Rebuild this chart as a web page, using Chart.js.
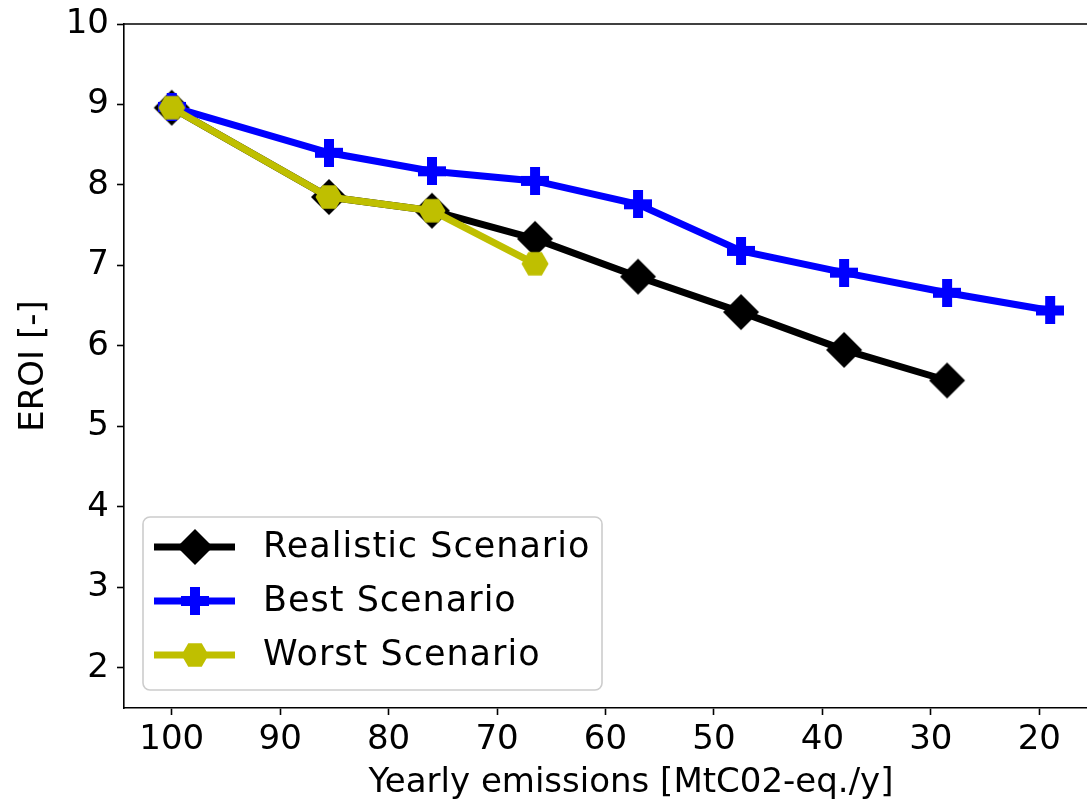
<!DOCTYPE html>
<html lang="en">
<head>
  <meta charset="UTF-8">
  <title>EROI vs yearly emissions</title>
  <script src="https://cdn.jsdelivr.net/npm/chart.js"></script>
  <style>
    html, body { margin: 0; padding: 0; background: #fff; }
    #wrap { width: 1087px; height: 808px; }
  </style>
</head>
<body>

<div id="wrap"><canvas id="eroiChart" width="1087" height="808"></canvas></div>

<script>
  // emission levels (MtCO2-eq per year) and EROI per scenario
  const emissions = [100, 85.5, 76, 66.5, 57, 47.5, 38, 28.5, 19];
  const realistic = [8.96, 7.85, 7.68, 7.33, 6.86, 6.42, 5.95, 5.57];
  const best      = [8.97, 8.40, 8.17, 8.05, 7.76, 7.18, 6.91, 6.66, 6.44];
  const worst     = [8.96, 7.85, 7.68, 7.02];

  const xTicks = [100, 90, 80, 70, 60, 50, 40, 30, 20];
  const yTicks = [2, 3, 4, 5, 6, 7, 8, 9, 10];

  const labels = ['Realistic Scenario', 'Best Scenario', 'Worst Scenario'];
  const colors = ['#000000', '#0000ff', '#bfbf00'];
  const xTitle = 'Yearly emissions [MtC02-eq./y]';

  function pairs(ys) {
    return ys.map((y, i) => ({ x: emissions[i], y: y }));
  }

  // marker sprites, reused for the points and the legend
  function sprite(w, h, draw) {
    const c = document.createElement('canvas');
    c.width = w; c.height = h;
    draw(c.getContext('2d'), w / 2, h / 2);
    return c;
  }

  const diamond = sprite(38, 38, (g, cx, cy) => {
    g.fillStyle = colors[0];
    g.beginPath();
    g.moveTo(cx, cy - 18);
    g.lineTo(cx + 18, cy);
    g.lineTo(cx, cy + 18);
    g.lineTo(cx - 18, cy);
    g.closePath();
    g.fill();
  });

  const plus = sprite(28, 28, (g, cx, cy) => {
    g.fillStyle = colors[1];
    g.fillRect(cx - 14, cy - 5, 28, 10);
    g.fillRect(cx - 5, cy - 14, 10, 28);
  });

  const hexagon = sprite(28, 26, (g, cx, cy) => {
    const r = 13.5;
    g.fillStyle = colors[2];
    g.beginPath();
    for (let k = 0; k < 6; k++) {
      const a = k * Math.PI / 3;
      const px = cx + r * Math.cos(a), py = cy + r * Math.sin(a);
      if (k === 0) g.moveTo(px, py); else g.lineTo(px, py);
    }
    g.closePath();
    g.fill();
  });

  const markers = [diamond, plus, hexagon];

  Chart.defaults.font.family = "'DejaVu Sans', sans-serif";
  Chart.defaults.font.size = 34;
  Chart.defaults.color = '#000';

  // top spine, x-axis title and legend box inside the plot
  const framePlugin = {
    id: 'frame',
    afterDraw(chart) {
      const ctx = chart.ctx;
      const a = chart.chartArea;
      ctx.save();
      ctx.strokeStyle = '#000';
      ctx.lineWidth = 1.6;
      ctx.beginPath();
      ctx.moveTo(a.left, a.top);
      ctx.lineTo(a.right, a.top);
      ctx.stroke();

      ctx.fillStyle = '#000';
      ctx.font = "34px 'DejaVu Sans'";
      ctx.textAlign = 'center';
      ctx.textBaseline = 'middle';
      ctx.fillText(xTitle, 631, 783);

      const bx = 143, by = 517, bw = 459, bh = 173, r = 7;
      ctx.beginPath();
      ctx.roundRect(bx, by, bw, bh, r);
      ctx.fillStyle = 'rgba(255,255,255,0.8)';
      ctx.fill();
      ctx.strokeStyle = '#cccccc';
      ctx.lineWidth = 1.6;
      ctx.stroke();

      ctx.font = "35px 'DejaVu Sans'";
      ctx.letterSpacing = '1px';
      ctx.textAlign = 'left';
      labels.forEach((lab, i) => {
        const y = 547 + i * 54;
        ctx.strokeStyle = colors[i];
        ctx.lineWidth = 7;
        ctx.beginPath();
        ctx.moveTo(154, y);
        ctx.lineTo(235, y);
        ctx.stroke();
        const m = markers[i];
        ctx.drawImage(m, 195 - m.width / 2, y - m.height / 2);
        ctx.fillStyle = '#000';
        ctx.fillText(lab, 263, y + 1);
      });
      ctx.restore();
    }
  };

  const series = [realistic, best, worst];
  const ctx = document.getElementById('eroiChart').getContext('2d');

  new Chart(ctx, {
    type: 'line',
    data: {
      datasets: series.map((ys, i) => ({
        label: labels[i],
        data: pairs(ys),
        borderColor: colors[i],
        backgroundColor: colors[i],
        borderWidth: 7,
        pointStyle: markers[i],
        pointRadius: 14,
        tension: 0,
        fill: false,
        order: 3 - i
      }))
    },
    options: {
      responsive: false,
      animation: false,
      events: [],
      layout: { autoPadding: false, padding: { top: 24, right: 0, left: 0, bottom: 0 } },
      plugins: {
        legend: { display: false },
        tooltip: { enabled: false }
      },
      scales: {
        x: {
          type: 'linear',
          reverse: true,
          min: 15.6,
          max: 104.4,
          afterBuildTicks: s => { s.ticks = xTicks.map(v => ({ value: v })); },
          afterFit: s => { s.height = 100; s.paddingLeft = 0; s.paddingRight = 0; },
          grid: { drawOnChartArea: false, drawTicks: true, tickLength: 7, tickColor: '#000', tickWidth: 1.6 },
          border: { display: true, color: '#000', width: 1.6 },
          ticks: { padding: 5, maxRotation: 0, autoSkip: false },
          title: { display: false }
        },
        y: {
          type: 'linear',
          min: 1.5,
          max: 10,
          afterBuildTicks: s => { s.ticks = yTicks.map(v => ({ value: v })); },
          afterFit: s => { s.width = 124; s.paddingTop = 0; s.paddingBottom = 0; },
          grid: { drawOnChartArea: false, drawTicks: true, tickLength: 7, tickColor: '#000', tickWidth: 1.6 },
          border: { display: true, color: '#000', width: 1.6 },
          ticks: { padding: 8 },
          title: { display: true, text: 'EROI [-]', padding: { top: 14, bottom: 0 } }
        }
      }
    },
    plugins: [framePlugin]
  });
</script>

</body>
</html>
